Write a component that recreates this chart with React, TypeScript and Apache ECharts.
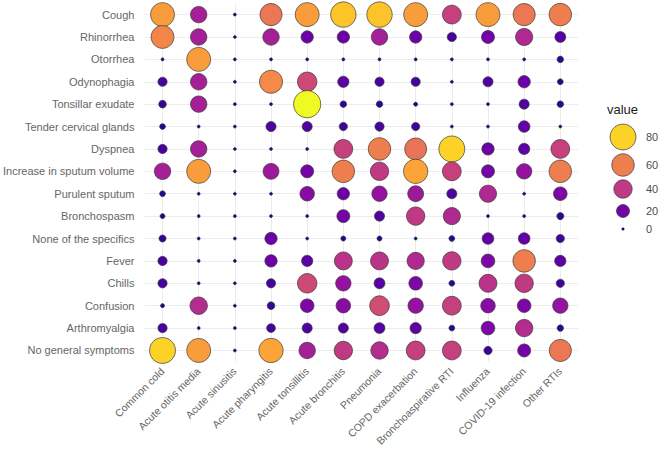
import React, { useEffect, useRef } from "react";
import * as echarts from "echarts";

// Diagnoses along the x axis
const diagnoses = [
  "Common cold",
  "Acute otitis media",
  "Acute sinusitis",
  "Acute pharyngitis",
  "Acute tonsillitis",
  "Acute bronchitis",
  "Pneumonia",
  "COPD exacerbation",
  "Bronchoaspirative RTI",
  "Influenza",
  "COVID-19 infection",
  "Other RTIs",
];

// Symptoms along the y axis (top to bottom)
const symptoms = [
  "Cough",
  "Rhinorrhea",
  "Otorrhea",
  "Odynophagia",
  "Tonsillar exudate",
  "Tender cervical glands",
  "Dyspnea",
  "Increase in sputum volume",
  "Purulent sputum",
  "Bronchospasm",
  "None of the specifics",
  "Fever",
  "Chills",
  "Confusion",
  "Arthromyalgia",
  "No general symptoms",
];

// Percentage per symptom, one value per diagnosis (same order as `diagnoses`)
const cough = [68, 32, 0, 58, 68, 77, 77, 68, 42, 68, 58, 60];
const rhinorrhea = [62, 32, 0, 32, 18, 18, 32, 18, 10, 20, 35, 14];
const otorrhea = [1, 68, 0, 1, 1, 1, 1, 1, 1, 1, 1, 5];
const odynophagia = [10, 32, 0, 63, 45, 15, 10, 10, 1, 12, 18, 4];
const tonsillarExudate = [7, 32, 0, 1, 88, 5, 5, 2, 1, 1, 12, 5];
const tenderGlands = [4, 1, 0, 12, 12, 8, 10, 8, 1, 1, 16, 1];
const dyspnea = [10, 32, 0, 1, 1, 42, 60, 57, 80, 18, 15, 42];
const sputumVolume = [32, 68, 0, 30, 20, 60, 40, 70, 42, 20, 28, 60];
const purulentSputum = [4, 1, 0, 1, 25, 18, 28, 30, 12, 35, 1, 22];
const bronchospasm = [3, 1, 0, 1, 1, 20, 12, 40, 35, 1, 1, 6];
const noneSpecific = [6, 1, 0, 18, 1, 3, 3, 1, 4, 16, 16, 8];
const fever = [10, 1, 0, 18, 15, 38, 38, 35, 40, 22, 60, 15];
const chills = [10, 1, 0, 10, 45, 28, 14, 22, 4, 38, 40, 8];
const confusion = [2, 36, 0, 7, 22, 25, 46, 28, 42, 25, 22, 28];
const arthromyalgia = [10, 1, 0, 9, 12, 12, 14, 15, 4, 22, 36, 5];
const noGeneral = [80, 68, 0, 70, 32, 40, 36, 42, 42, 8, 20, 58];

const rows = [
  cough,
  rhinorrhea,
  otorrhea,
  odynophagia,
  tonsillarExudate,
  tenderGlands,
  dyspnea,
  sputumVolume,
  purulentSputum,
  bronchospasm,
  noneSpecific,
  fever,
  chills,
  confusion,
  arthromyalgia,
  noGeneral,
];

// Legend breaks
const legendBreaks = [80, 60, 40, 20, 0];

// Plasma colour ramp
const plasma = [
  "#0d0887",
  "#41049d",
  "#6a00a8",
  "#8f0da4",
  "#b12a90",
  "#cc4778",
  "#e16462",
  "#f2844b",
  "#fca636",
  "#fcce25",
  "#f0f921",
];

const allValues = rows.flat();
const vMax = Math.max(...allValues);

// Bubble area grows with the value
const bubbleSize = (v: number) => Math.max(3, 2.9 * Math.sqrt(v));

const FONT = "Liberation Sans, Arial, sans-serif";

export default function App() {
  const ref = useRef<HTMLDivElement>(null);

  useEffect(() => {
    if (!ref.current) return;
    const chart = echarts.init(ref.current, undefined, { renderer: "svg" });

    const data: [string, string, number][] = [];
    rows.forEach((vals, r) => {
      vals.forEach((v, c) => data.push([diagnoses[c], symptoms[r], v]));
    });

    const gridColor = "#ececec";
    const legendYs = [137, 165, 189, 211, 229];

    const legendGraphics: any[] = [
      {
        type: "text",
        left: 607,
        top: 103,
        style: { text: "value", fontSize: 13, fill: "#222", fontFamily: FONT },
      },
    ];
    legendBreaks.forEach((b, i) => {
      legendGraphics.push({
        type: "circle",
        shape: { cx: 623, cy: legendYs[i], r: bubbleSize(b) / 2 },
        style: {
          fill: echarts.color.lerp(b / vMax, plasma),
          stroke: b === 0 ? "transparent" : "#3a3a3a",
          lineWidth: 0.7,
        },
      });
      legendGraphics.push({
        type: "text",
        x: 646,
        y: legendYs[i],
        style: {
          text: String(b),
          fontSize: 11,
          fill: "#4d4d4d",
          verticalAlign: "middle",
          fontFamily: FONT,
        },
      });
    });

    chart.setOption({
      animation: false,
      grid: { left: 136.6, right: 80.6, top: 3.4, bottom: 85 },
      xAxis: {
        type: "category",
        data: diagnoses,
        axisLine: { show: false },
        axisTick: { show: false },
        splitLine: { show: false },
        axisLabel: {
          rotate: 45,
          interval: 0,
          margin: 8,
          color: "#666",
          fontSize: 10.5,
          fontFamily: FONT,
        },
      },
      yAxis: {
        type: "category",
        data: symptoms,
        inverse: true,
        axisLine: { show: false },
        axisTick: { show: false },
        splitLine: { show: false },
        axisLabel: {
          interval: 0,
          margin: 10,
          color: "#666",
          fontSize: 11,
          fontFamily: FONT,
        },
      },
      visualMap: {
        show: false,
        type: "continuous",
        dimension: 2,
        seriesIndex: 1,
        min: 0,
        max: vMax,
        inRange: { color: plasma },
      },
      graphic: legendGraphics,
      series: [
        {
          // major grid lines at every category, kept behind the bubbles
          type: "line",
          data: [],
          z: 0,
          silent: true,
          markLine: {
            z: 0,
            silent: true,
            symbol: "none",
            label: { show: false },
            lineStyle: { color: gridColor, width: 1, type: "solid" },
            data: [
              ...diagnoses.map((d) => ({ xAxis: d })),
              ...symptoms.map((s) => ({ yAxis: s })),
            ],
          },
        },
        {
          type: "scatter",
          z: 10,
          data,
          symbolSize: (val: any) => bubbleSize(val[2]),
          itemStyle: {
            borderColor: "#3a3a3a",
            borderWidth: 0.7,
            opacity: 1,
          },
          emphasis: { disabled: true },
        },
      ],
    });

    return () => chart.dispose();
  }, []);

  return (
    <div
      ref={ref}
      style={{ position: "fixed", left: 0, top: 0, width: 659, height: 449, background: "#fff" }}
    />
  );
}
